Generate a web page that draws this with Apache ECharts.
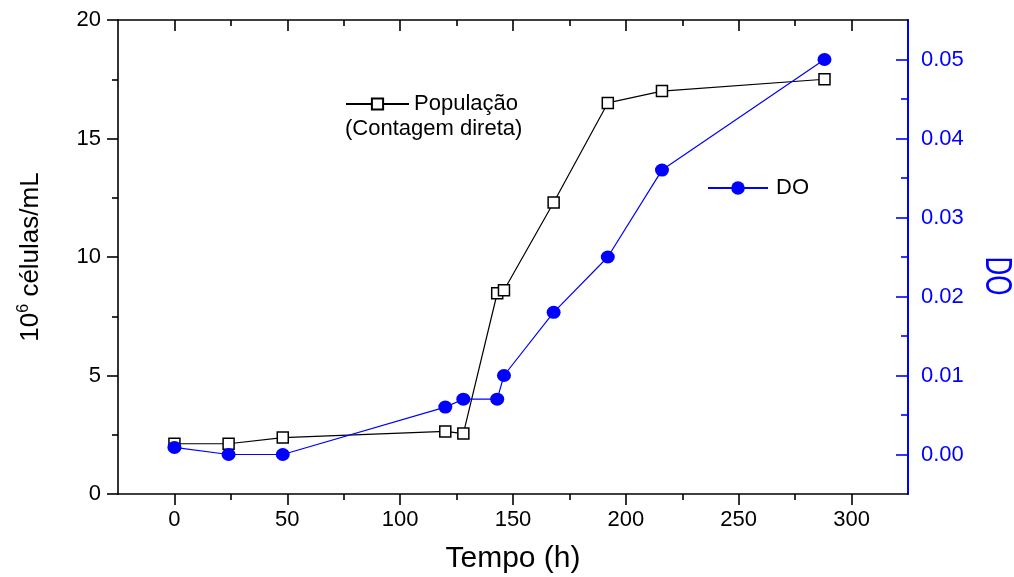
<!DOCTYPE html>
<html>
<head>
<meta charset="utf-8">
<script src="https://cdn.jsdelivr.net/npm/echarts@6/dist/echarts.min.js"></script>
<style>html,body{margin:0;padding:0;background:#fff}#c{width:1014px;height:577px}</style>
</head>
<body>
<div id="c"></div>
<script>
// Data
var popTime = [0, 24, 48, 120, 128, 143, 146, 168, 192, 216, 288];
var popValues = [2.12, 2.12, 2.38, 2.64, 2.55, 8.47, 8.6, 12.3, 16.5, 17.0, 17.5];
var doTime = [0, 24, 48, 120, 128, 143, 146, 168, 192, 216, 288];
var doValues = [0.0009, 0.0, 0.0, 0.006, 0.007, 0.007, 0.010, 0.018, 0.025, 0.036, 0.050];
var xMajorTicks = [0, 50, 100, 150, 200, 250, 300];
var xMinorTicks = [25, 75, 125, 175, 225, 275];
var doMajorTicks = [0, 0.01, 0.02, 0.03, 0.04, 0.05];
var doMinorTicks = [0.005, 0.015, 0.025, 0.035, 0.045];

var FF = 'Liberation Sans';
var BLUE = '#0000ff';
function zip(a, b) { return a.map(function (v, i) { return [v, b[i]]; }); }

var chart = echarts.init(document.getElementById('c'));
chart.setOption({
  animation: false,
  textStyle: { fontFamily: FF },
  grid: { left: 118, right: 106, top: 20, bottom: 83, containLabel: false, outerBoundsMode: 'none' },
  legend: [
    { data: ['População'], left: 345, top: 93, padding: 0, itemWidth: 63, itemHeight: 14,
      textStyle: { fontSize: 22, color: '#000', fontFamily: FF }, selectedMode: false },
    { data: ['DO'], left: 707, top: 177, padding: 0, itemWidth: 60, itemHeight: 17, itemGap: 10,
      textStyle: { fontSize: 22, color: '#000', fontFamily: FF, padding: [0, 0, 0, 3] }, selectedMode: false }
  ],
  graphic: [
    { type: 'text', left: 345, top: 118,
      style: { text: '(Contagem direta)', fontSize: 22, fontFamily: FF, fill: '#000' } },
    { type: 'text', x: 996, y: 276, rotation: -Math.PI / 2, scaleX: 0.72,
      style: { text: 'DO', fontSize: 36, fontFamily: FF, fill: BLUE, align: 'center', verticalAlign: 'middle' } }
  ],
  xAxis: [
    { type: 'value', position: 'bottom', min: -25, max: 325,
      axisLine: { show: true, onZero: false, lineStyle: { color: '#000', width: 1.6 } },
      axisTick: { show: true, customValues: xMajorTicks, length: 11, lineStyle: { color: '#000', width: 1.6 } },
      axisLabel: { customValues: xMajorTicks, fontSize: 22, color: '#000', margin: 15, fontFamily: FF },
      splitLine: { show: false },
      name: 'Tempo (h)', nameLocation: 'middle', nameGap: 50,
      nameTextStyle: { fontSize: 30, color: '#000', fontFamily: FF } },
    { type: 'value', position: 'bottom', min: -25, max: 325,
      axisLine: { show: false, onZero: false },
      axisTick: { show: true, customValues: xMinorTicks, length: 6, lineStyle: { color: '#000', width: 1.6 } },
      axisLabel: { show: false }, splitLine: { show: false } },
    { type: 'value', position: 'top', min: -25, max: 325,
      axisLine: { show: true, onZero: false, lineStyle: { color: '#000', width: 1.6 } },
      axisTick: { show: true, inside: true, customValues: xMajorTicks, length: 11, lineStyle: { color: '#000', width: 1.6 } },
      axisLabel: { show: false }, splitLine: { show: false } },
    { type: 'value', position: 'top', min: -25, max: 325,
      axisLine: { show: false, onZero: false },
      axisTick: { show: true, inside: true, customValues: xMinorTicks, length: 6, lineStyle: { color: '#000', width: 1.6 } },
      axisLabel: { show: false }, splitLine: { show: false } }
  ],
  yAxis: [
    { type: 'value', position: 'left', min: 0, max: 20, interval: 5,
      axisLine: { show: true, onZero: false, lineStyle: { color: '#000', width: 1.6 } },
      axisTick: { show: true, length: 11, lineStyle: { color: '#000', width: 1.6 } },
      minorTick: { show: true, splitNumber: 2, length: 6, lineStyle: { color: '#000', width: 1.6 } },
      axisLabel: { fontSize: 22, color: '#000', margin: 17, fontFamily: FF },
      splitLine: { show: false }, minorSplitLine: { show: false },
      name: '{a|10}{b|6}{a| células/mL}', nameLocation: 'middle', nameGap: 72,
      nameTextStyle: { color: '#000', fontFamily: FF,
        rich: { a: { fontSize: 26, lineHeight: 30, fontFamily: FF, color: '#000' },
                b: { fontSize: 16, lineHeight: 16, verticalAlign: 'top', fontFamily: FF, color: '#000' } } } },
    { type: 'value', position: 'right', min: -0.005, max: 0.055,
      axisLine: { show: true, onZero: false, lineStyle: { color: BLUE, width: 2 } },
      axisTick: { show: true, inside: true, customValues: doMajorTicks, length: 12, lineStyle: { color: BLUE, width: 1.6 } },
      axisLabel: { customValues: doMajorTicks, fontSize: 22, color: BLUE, margin: 13, fontFamily: FF,
        formatter: function (v) { return v.toFixed(2); } },
      splitLine: { show: false } },
    { type: 'value', position: 'right', min: -0.005, max: 0.055,
      axisLine: { show: false, onZero: false },
      axisTick: { show: true, inside: true, customValues: doMinorTicks, length: 7, lineStyle: { color: BLUE, width: 1.6 } },
      axisLabel: { show: false }, splitLine: { show: false } }
  ],
  series: [
    { name: 'População', type: 'line', xAxisIndex: 0, yAxisIndex: 0, z: 2,
      data: zip(popTime, popValues),
      symbol: 'rect', symbolSize: 11, showAllSymbol: true,
      itemStyle: { color: '#fff', borderColor: '#000', borderWidth: 1.5 },
      lineStyle: { color: '#000', width: 1.2 },
      emphasis: { disabled: true } },
    { name: 'DO', type: 'line', xAxisIndex: 0, yAxisIndex: 1, z: 3,
      data: zip(doTime, doValues),
      symbol: 'circle', symbolSize: [14, 13], showAllSymbol: true,
      itemStyle: { color: BLUE },
      lineStyle: { color: BLUE, width: 1.2 },
      emphasis: { disabled: true } }
  ]
});
</script>
</body>
</html>
